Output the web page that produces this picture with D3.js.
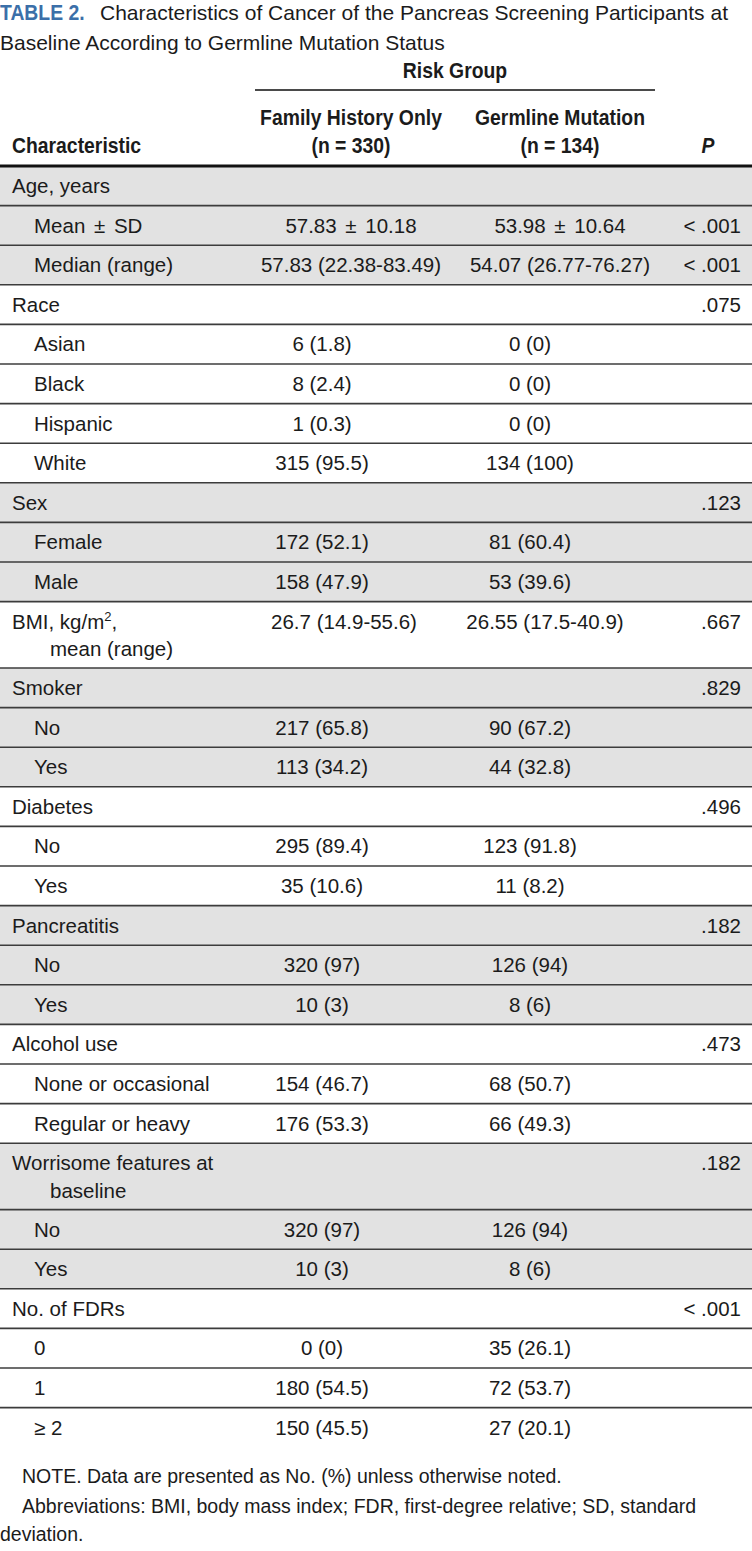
<!DOCTYPE html>
<html>
<head>
<meta charset="utf-8">
<script src="https://cdn.jsdelivr.net/npm/d3@7"></script>
<style>
  body { margin: 0; background: #fff; }
  text { font-family: "Liberation Sans", Arial, sans-serif; fill: #1b1b1b; }
  .hd { font-weight: bold; }
</style>
</head>
<body>
<svg id="tbl"></svg>
<script>
// table content
var titleLead = "TABLE 2.";
var titleLines = [
  "Characteristics of Cancer of the Pancreas Screening Participants at",
  "Baseline According to Germline Mutation Status"
];
var spannerLabel = "Risk Group";
var columnHeads = [["Characteristic"], ["Family History Only", "(n = 330)"], ["Germline Mutation", "(n = 134)"], ["P"]];

var rowLabels = [
  ["Age, years"], ["Mean ± SD"], ["Median (range)"],
  ["Race"], ["Asian"], ["Black"], ["Hispanic"], ["White"],
  ["Sex"], ["Female"], ["Male"],
  ["BMI, kg/m^2,", "mean (range)"],
  ["Smoker"], ["No"], ["Yes"],
  ["Diabetes"], ["No"], ["Yes"],
  ["Pancreatitis"], ["No"], ["Yes"],
  ["Alcohol use"], ["None or occasional"], ["Regular or heavy"],
  ["Worrisome features at", "baseline"], ["No"], ["Yes"],
  ["No. of FDRs"], ["0"], ["1"], ["\u2265 2"]
];
var rowLevel = [0,1,1, 0,1,1,1,1, 0,1,1, 0, 0,1,1, 0,1,1, 0,1,1, 0,1,1, 0,1,1, 0,1,1,1];

var familyHistory = [
  "", "57.83 \u00b1 10.18", "57.83 (22.38-83.49)",
  "", "6 (1.8)", "8 (2.4)", "1 (0.3)", "315 (95.5)",
  "", "172 (52.1)", "158 (47.9)",
  "26.7 (14.9-55.6)",
  "", "217 (65.8)", "113 (34.2)",
  "", "295 (89.4)", "35 (10.6)",
  "", "320 (97)", "10 (3)",
  "", "154 (46.7)", "176 (53.3)",
  "", "320 (97)", "10 (3)",
  "", "0 (0)", "180 (54.5)", "150 (45.5)"
];
var germlineMutation = [
  "", "53.98 \u00b1 10.64", "54.07 (26.77-76.27)",
  "", "0 (0)", "0 (0)", "0 (0)", "134 (100)",
  "", "81 (60.4)", "53 (39.6)",
  "26.55 (17.5-40.9)",
  "", "90 (67.2)", "44 (32.8)",
  "", "123 (91.8)", "11 (8.2)",
  "", "126 (94)", "8 (6)",
  "", "68 (50.7)", "66 (49.3)",
  "", "126 (94)", "8 (6)",
  "", "35 (26.1)", "72 (53.7)", "27 (20.1)"
];
var pValues = [
  "", "< .001", "< .001",
  ".075", "", "", "", "",
  ".123", "", "",
  ".667",
  ".829", "", "",
  ".496", "", "",
  ".182", "", "",
  ".473", "", "",
  ".182", "", "",
  "< .001", "", "", ""
];
var notes = [
  "NOTE. Data are presented as No. (%) unless otherwise noted.",
  "Abbreviations: BMI, body mass index; FDR, first-degree relative; SD, standard",
  "deviation."
];

var W = 752, H = 1551;
var svg = d3.select("#tbl").attr("width", W).attr("height", H);

var fontBody = 20.5;
var singleH = 39.6, lineStep = 27.6;
var tableTop = 166;
var narrow = 0.88; // condensed look for the bold heads

// column centres for the two value columns
var colX = d3.scalePoint().domain(["fh", "gm"]).range([351, 560]);
var pRight = 741;

function headText(x, y, s, anchor, size) {
  return svg.append("text").attr("class", "hd")
    .attr("transform", "translate(" + x + "," + y + ") scale(" + narrow + ",1)")
    .attr("text-anchor", anchor || "start")
    .style("font-size", (size || 22) + "px")
    .text(s);
}

// title
headText(0, 20, titleLead, "start", 22).style("fill", "#3b6fa9");
svg.append("text").attr("x", 100).attr("y", 20).style("font-size", "21px").text(titleLines[0]);
svg.append("text").attr("x", 0).attr("y", 50).style("font-size", "21px").text(titleLines[1]);

// spanner
headText(455, 78, spannerLabel, "middle");
svg.append("line").attr("x1", 255).attr("x2", 655).attr("y1", 90).attr("y2", 90)
  .attr("stroke", "#4a4a4a").attr("stroke-width", 2);

// column heads
var headX = [12, colX("fh"), colX("gm"), 708];
var headAnchor = ["start", "middle", "middle", "middle"];
columnHeads.forEach(function (lines, i) {
  lines.forEach(function (s, k) {
    var y = 153 - (lines.length - 1 - k) * 28;
    headText(headX[i], y, s, headAnchor[i]).style("font-style", i === 3 ? "italic" : null);
  });
});

// row geometry
var rows = [];
var y = tableTop, grp = -1;
rowLabels.forEach(function (lab, i) {
  if (rowLevel[i] === 0) grp++;
  var h = lab.length > 1 ? singleH + 26.8 : singleH;
  rows.push({ i: i, top: y, h: h, grp: grp, label: lab, level: rowLevel[i],
              fh: familyHistory[i], gm: germlineMutation[i], p: pValues[i] });
  y += h;
});

// horizontal shift of the value cells by kind of row
function valueShift(r) {
  if (r.level === 1 && r.grp === 0) return [0, 0];
  if (r.label.length > 1 && r.label[0].indexOf("BMI") === 0) return [-7, -15];
  return [-29, -30];
}
function plusMinusGap(s) { return s.indexOf("\u00b1") >= 0 ? "3px" : null; }

var g = svg.append("g");
g.selectAll("rect.band").data(rows.filter(function (r) { return r.grp % 2 === 0; }))
  .enter().append("rect").attr("class", "band")
  .attr("x", 0).attr("width", W)
  .attr("y", function (r) { return r.top; })
  .attr("height", function (r) { return r.h; })
  .attr("fill", "#e2e2e2");

// separators between rows
g.selectAll("line.sep").data(rows.slice(1)).enter().append("line")
  .attr("class", "sep")
  .attr("x1", 0).attr("x2", W)
  .attr("y1", function (r) { return r.top; })
  .attr("y2", function (r) { return r.top; })
  .attr("stroke", "#3c3c3c").attr("stroke-width", 1.6);

// heavy rule under the heads
svg.append("line").attr("x1", 0).attr("x2", W).attr("y1", tableTop).attr("y2", tableTop)
  .attr("stroke", "#111").attr("stroke-width", 3);

// labels and values
rows.forEach(function (r) {
  r.label.forEach(function (s, k) {
    var tx = g.append("text")
      .attr("x", k === 0 ? (r.level === 0 ? 12 : 34) : 50)
      .attr("y", r.top + 27 + k * lineStep)
      .style("font-size", fontBody + "px")
      .style("word-spacing", plusMinusGap(s));
    var parts = s.split("^");
    tx.append("tspan").text(parts[0]);
    if (parts.length > 1) {
      tx.append("tspan").attr("dy", -8).style("font-size", "13px").text(parts[1].charAt(0));
      tx.append("tspan").attr("dy", 8).text(parts[1].slice(1));
    }
  });
  var sh = valueShift(r);
  g.append("text").attr("x", colX("fh") + sh[0]).attr("y", r.top + 27)
    .attr("text-anchor", "middle").style("font-size", fontBody + "px")
    .style("word-spacing", plusMinusGap(r.fh)).text(r.fh);
  g.append("text").attr("x", colX("gm") + sh[1]).attr("y", r.top + 27)
    .attr("text-anchor", "middle").style("font-size", fontBody + "px")
    .style("word-spacing", plusMinusGap(r.gm)).text(r.gm);
  g.append("text").attr("x", pRight).attr("y", r.top + 27)
    .attr("text-anchor", "end").style("font-size", fontBody + "px").text(r.p);
});

// notes
var noteY = [1483, 1513, 1541];
var noteX = [22, 22, 0];
notes.forEach(function (s, i) {
  svg.append("text").attr("x", noteX[i]).attr("y", noteY[i])
    .style("font-size", "19.5px").text(s);
});
</script>
</body>
</html>
